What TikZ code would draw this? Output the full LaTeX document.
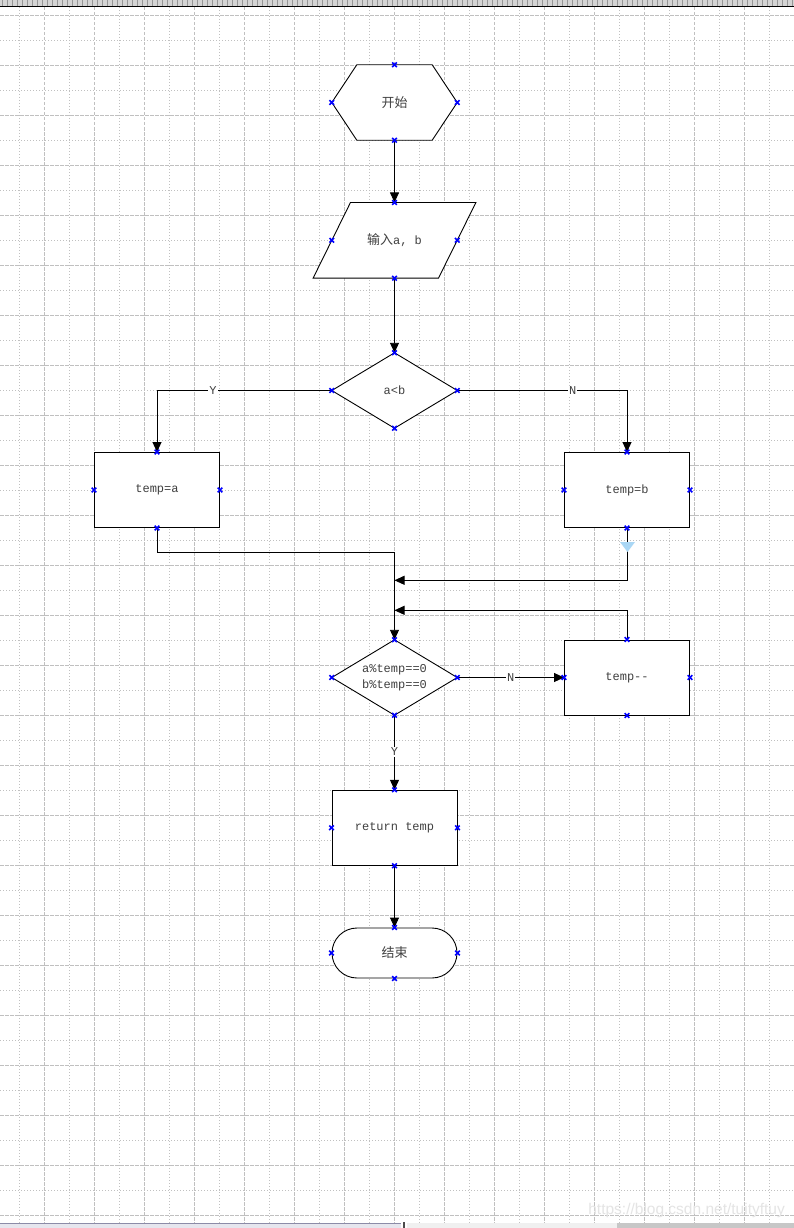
\documentclass[tikz,border=0pt]{standalone}
\usepackage{fontspec}
\setmainfont{Liberation Mono}
\newfontfamily\cjk{Noto Sans CJK SC}
\newfontfamily\wmfont{Liberation Sans}
\usetikzlibrary{arrows.meta,calc}
\definecolor{gridc}{RGB}{192,192,192}
\definecolor{txtc}{RGB}{64,64,64}
\definecolor{cpblue}{RGB}{0,0,255}
\definecolor{selblue}{RGB}{170,215,245}
\definecolor{rulerc}{RGB}{212,212,212}
\definecolor{tickc}{RGB}{150,150,150}
\definecolor{barl}{RGB}{230,230,238}
\definecolor{barline}{RGB}{140,140,168}
\definecolor{wmc}{RGB}{228,228,228}
\newcommand\cpmark[1]{\draw[cpx] ($(#1)+(-2.3,-2.3)$) -- ($(#1)+(2.3,2.3)$) ($(#1)+(-2.3,2.3)$) -- ($(#1)+(2.3,-2.3)$);}
\begin{document}
\begin{tikzpicture}[x=1pt,y=-1pt,
  gridmaj/.style={draw=gridc, line width=1pt, dash pattern=on 3.5pt off 1.5pt},
  gridmin/.style={draw=gridc, line width=1pt, dash pattern=on 1pt off 2pt},
  hidden/.style={rectangle, minimum width=125pt, minimum height=75pt, inner sep=0pt, text=txtc, font=\fontsize{12}{16.4}\selectfont, align=center},
  boxnode/.style={hidden, draw=black, line width=0.9pt, fill=white},
  shapeline/.style={draw=black, line width=0.9pt, fill=white},
  conn/.style={draw=black, line width=0.9pt, -{Triangle[length=10pt,width=9pt]}},
  plainline/.style={draw=black, line width=0.9pt},
  lbl/.style={fill=white, inner sep=1pt, text=txtc, font=\fontsize{12}{14}\selectfont},
  cjkt/.style={font=\cjk\fontsize{13}{16}\selectfont},
  cpx/.style={draw=cpblue, line width=1.6pt}
]
\useasboundingbox (0,0) rectangle (794,1228);
\fill[white] (0,0) rectangle (794,1228);
% grid
\foreach \i in {0,...,15} { \draw[gridmin] (19.3+50*\i,7) -- (19.3+50*\i,1222.5); }
\foreach \i in {0,...,14} { \draw[gridmaj] (44.3+50*\i,7) -- (44.3+50*\i,1222.5); }
\foreach \i in {0,...,24} { \draw[gridmaj] (0,15.3+50*\i) -- (794,15.3+50*\i); }
\foreach \i in {0,...,23} { \draw[gridmin] (0,40.3+50*\i) -- (794,40.3+50*\i); }
% top ruler
\fill[rulerc] (0,0) rectangle (794,6);
\foreach \i in {0,...,158} { \draw[tickc, line width=0.8pt] (2+5*\i,0) -- (2+5*\i,6); }
\draw[black, line width=1.5pt] (0,6.5) -- (794,6.5);
% bottom bar
\fill[barl] (0,1222.5) rectangle (401,1228);
\draw[barline, line width=1pt] (0,1223) -- (401,1223);
\fill[black!70] (403,1222) rectangle (405,1228);
\fill[black!6] (407,1222.5) rectangle (617,1228);
\fill[black!22] (617,1222.5) rectangle (794,1228);
% watermark
\node[anchor=base east, inner sep=0pt, text=wmc, font=\wmfont\fontsize{15.5}{17}\selectfont] (wm) at (785,1214) {https://blog.csdn.net/tuityftuy};

% nodes
\node[hidden] (start) at (394.5,102.5) {};
\draw[shapeline] (start.west) -- ($(start.north west)+(25,0)$) -- ($(start.north east)+(-25,0)$) -- (start.east) -- ($(start.south east)+(-25,0)$) -- ($(start.south west)+(25,0)$) -- cycle;
\node[hidden, cjkt] at (start.center) {开始};

\node[hidden, minimum height=75.3pt] (in) at (394.5,240.3) {};
\draw[shapeline] ($(in.north west)+(18.7,0)$) -- ($(in.north east)+(18.7,0)$) -- ($(in.south east)+(-18.7,0)$) -- ($(in.south west)+(-18.7,0)$) -- cycle;
\node[hidden] at (in.center) {{\cjk\fontsize{13}{16}\selectfont 输入}a, b};

\node[hidden] (d1) at (394.5,390.5) {};
\draw[shapeline] (d1.north) -- (d1.east) -- (d1.south) -- (d1.west) -- cycle;
\node[hidden] at (d1.center) {a<b};

\node[boxnode] (ta) at (157,490) {temp=a};
\node[boxnode] (tb) at (627,490) {temp=b};

\node[hidden] (d2) at (394.5,677.5) {};
\draw[shapeline] (d2.north) -- (d2.east) -- (d2.south) -- (d2.west) -- cycle;
\node[hidden] at (d2.center) {a\%temp==0\\b\%temp==0};

\node[boxnode] (td) at (627,677.5) {temp-\kern0pt-};
\node[boxnode] (ret) at (394.5,827.8) {return temp};
\node[boxnode, cjkt, minimum height=50pt, rounded corners=25pt] (end) at (394.5,953) {结束};

\coordinate (j0) at (394.5,552);
\coordinate (j1) at (394.5,580.3);
\coordinate (j2) at (394.5,610.3);

% connectors
\draw[conn] (start.south) -- (in.north);
\draw[conn] (in.south) -- (d1.north);
\draw[conn] (d1.west) -| node[lbl, pos=0.34] {Y} (ta.north);
\draw[conn] (d1.east) -| node[lbl, pos=0.34] {N} (tb.north);
\draw[plainline] (ta.south) |- (j0);
\draw[conn] (j0) -- (d2.north);
\draw[conn] (tb.south) |- (j1);
\draw[conn] (td.north) |- (j2);
\draw[conn] (d2.east) -- node[lbl] {N} (td.west);
\draw[conn] (d2.south) -- node[lbl, pos=0.49] {Y} (ret.north);
\draw[conn] (ret.south) -- (end.north);

% selection artifact
\fill[selblue] (620,542) -- (635,542) -- (627.5,552) -- cycle;

% connection points
\foreach \n in {start,in,d1,ta,tb,d2,td,ret,end} {
  \cpmark{\n.north} \cpmark{\n.south} \cpmark{\n.east} \cpmark{\n.west}
}
\end{tikzpicture}
\end{document}
